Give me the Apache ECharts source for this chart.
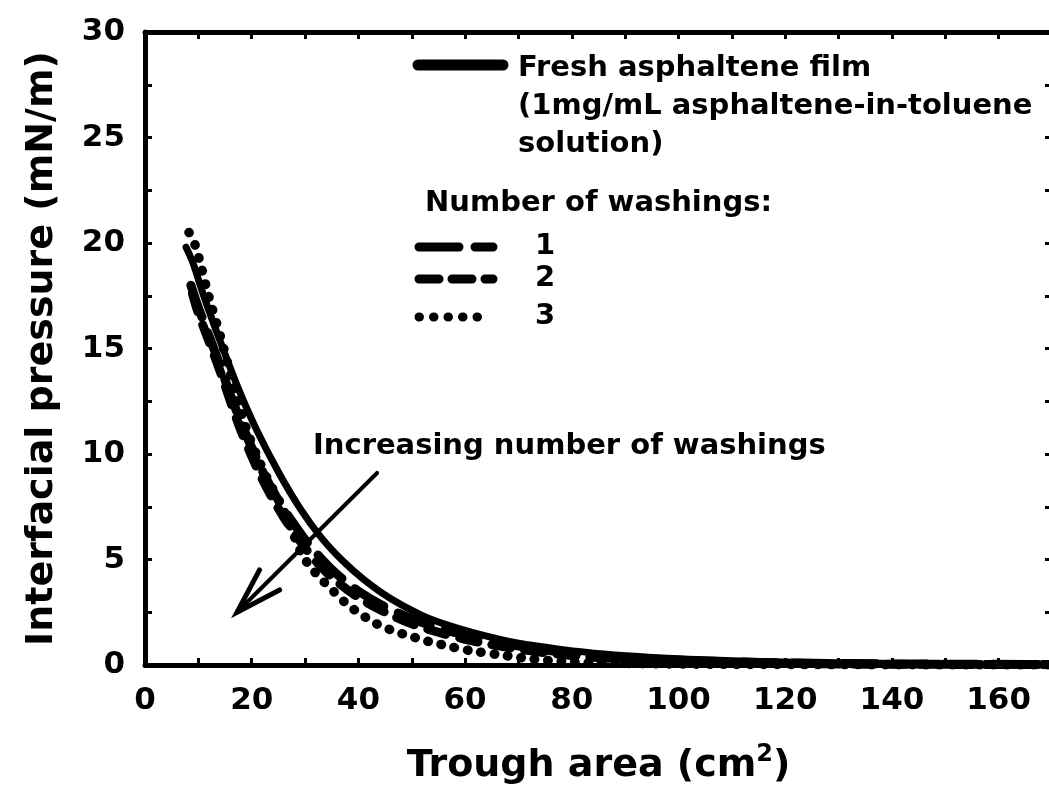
<!DOCTYPE html>
<html>
<head>
<meta charset="utf-8">
<script src="https://cdn.jsdelivr.net/npm/echarts@6/dist/echarts.min.js"></script>
<style>
html,body{margin:0;padding:0;background:#fff;}
#chart{width:1049px;height:806px;}
</style>
</head>
<body>
<div id="chart"></div>
<script>
// ---- Data ----
const xTicks = [0, 20, 40, 60, 80, 100, 120, 140, 160];
const yTicks = [0, 5, 10, 15, 20, 25, 30];

const freshX = [7.7, 9, 11, 14, 17.5, 21, 25, 29, 33, 37, 41, 46, 51.5, 56, 62, 70, 78, 86, 95, 105, 115, 130, 145, 160, 170];
const freshY = [19.8, 19.05, 17.5, 15.4, 13.1, 11.1, 9.15, 7.45, 6.05, 4.95, 4.05, 3.15, 2.4, 1.95, 1.5, 1.03, 0.74, 0.52, 0.36, 0.25, 0.17, 0.1, 0.06, 0.04, 0.03];

const wash1X = [8.6, 9.5, 10.5, 12.3, 14.2, 16, 18, 20, 22, 24, 26, 28, 30, 33, 36, 40, 45, 50, 55, 60, 66, 72, 80, 90, 100, 115, 130, 150, 170];
const wash1Y = [18.0, 17.3, 16.6, 15.4, 14.1, 12.8, 11.5, 10.3, 9.2, 8.25, 7.4, 6.65, 5.95, 5.05, 4.3, 3.5, 2.75, 2.2, 1.75, 1.42, 1.08, 0.82, 0.56, 0.36, 0.23, 0.12, 0.07, 0.04, 0.02];

const wash2X = [8.9, 9.7, 10.7, 12.5, 14.4, 16, 18, 20, 22, 24, 26, 28, 30, 33, 36, 40, 45, 50, 55, 60, 66, 72, 80, 90, 100, 115, 130, 150, 170];
const wash2Y = [17.6, 16.9, 16.2, 15.0, 13.7, 12.5, 11.1, 9.9, 8.8, 7.85, 7.0, 6.25, 5.55, 4.65, 3.95, 3.2, 2.5, 1.95, 1.55, 1.22, 0.92, 0.68, 0.45, 0.28, 0.17, 0.09, 0.05, 0.03, 0.02];

const wash3X = [8.25, 9.4, 10.3, 11.6, 12.6, 14.1, 15.5, 17, 19, 21, 23, 25.5, 27.5, 29.5, 31.5, 33.5, 35.5, 38, 40.5, 43, 45, 47, 49.5, 52, 54, 57, 61, 66, 72, 78, 85, 95, 110, 130, 150, 170];
const wash3Y = [20.5, 19.9, 19.1, 17.8, 16.9, 15.6, 14.3, 12.9, 11.2, 9.9, 8.8, 7.6, 6.4, 5.2, 4.5, 3.95, 3.45, 2.85, 2.4, 2.0, 1.78, 1.56, 1.4, 1.18, 1.07, 0.88, 0.68, 0.5, 0.3, 0.17, 0.1, 0.06, 0.03, 0.02, 0.01, 0.01];

// arrow annotation (data coords): from -> to
const arrowFrom = [43.5, 9.1];
const arrowTo = [17.25, 2.5];

const legendFresh = ['Fresh asphaltene film', '(1mg/mL asphaltene-in-toluene', 'solution)'];
const legendHeader = 'Number of washings:';
const legendWash = ['1', '2', '3'];
const annotation = 'Increasing number of washings';

// ---- Chart ----
const FONT = 'DejaVu Sans';
const pairs = (xs, ys) => xs.map((x, i) => [x, ys[i]]);

const chart = echarts.init(document.getElementById('chart'), null, {renderer: 'canvas'});

const axisCommon = {
  min: 0,
  axisLine: {show: true, onZero: false, lineStyle: {color: '#000', width: 5}},
  axisTick: {show: true, inside: true, length: 7, lineStyle: {color: '#000', width: 3}},
  minorTick: {show: true, splitNumber: 2, length: 7, lineStyle: {color: '#000', width: 3}},
  splitLine: {show: false}
};

const option = {
  backgroundColor: '#fff',
  animation: false,
  grid: {left: 145, right: -3, top: 32, bottom: 141, containLabel: false, outerBoundsMode: 'none'},
  xAxis: [
    Object.assign({}, axisCommon, {
      type: 'value', position: 'bottom', max: 170, interval: 20,
      axisLabel: {show: true, margin: 20, color: '#000', fontFamily: FONT, fontWeight: 'bold', fontSize: 31,
        showMaxLabel: false,
        formatter: v => xTicks.includes(v) ? String(v) : ''},
      name: 'Trough area (cm{sup|2})',
      nameLocation: 'middle', nameGap: 78,
      nameTextStyle: {color: '#000', fontFamily: FONT, fontWeight: 'bold', fontSize: 38, lineHeight: 46,
        rich: {sup: {fontFamily: FONT, fontWeight: 'bold', fontSize: 24, verticalAlign: 'top', lineHeight: 46, color: '#000'}}}
    }),
    Object.assign({}, axisCommon, {
      type: 'value', position: 'top', max: 170, interval: 20,
      axisLabel: {show: false}
    })
  ],
  yAxis: [
    Object.assign({}, axisCommon, {
      type: 'value', position: 'left', max: 30, interval: 5,
      axisLabel: {show: true, margin: 20, color: '#000', fontFamily: FONT, fontWeight: 'bold', fontSize: 31,
        formatter: v => yTicks.includes(v) ? String(v) : ''},
      name: 'Interfacial pressure (mN/m)',
      nameLocation: 'middle', nameGap: 84,
      nameTextStyle: {color: '#000', fontFamily: FONT, fontWeight: 'bold', fontSize: 38}
    }),
    Object.assign({}, axisCommon, {
      type: 'value', position: 'right', max: 30, interval: 5,
      axisLabel: {show: false}
    })
  ],
  series: [
    {
      name: 'fresh', type: 'line', smooth: 0.3, showSymbol: false, silent: true,
      data: pairs(freshX, freshY),
      lineStyle: {color: '#000', width: 7, cap: 'round', join: 'round'}
    },
    {
      name: '1', type: 'line', smooth: 0.3, showSymbol: false, silent: true,
      data: pairs(wash1X, wash1Y),
      lineStyle: {color: '#000', width: 9, type: [34, 16], cap: 'round', join: 'round'}
    },
    {
      name: '2', type: 'line', smooth: 0.3, showSymbol: false, silent: true,
      data: pairs(wash2X, wash2Y),
      lineStyle: {color: '#000', width: 9, type: [19, 14], cap: 'round', join: 'round'}
    },
    {
      name: '3', type: 'line', smooth: 0.3, showSymbol: false, silent: true,
      data: pairs(wash3X, wash3Y),
      lineStyle: {color: '#000', width: 9.5, type: [0.5, 13], cap: 'round', join: 'round'}
    },
    {
      name: 'arrow', type: 'custom', silent: true,
      data: [[arrowFrom[0], arrowFrom[1], arrowTo[0], arrowTo[1]]],
      renderItem: function (params, api) {
        const p1 = api.coord([api.value(0), api.value(1)]);
        const p2 = api.coord([api.value(2), api.value(3)]);
        const ang = Math.atan2(p1[1] - p2[1], p1[0] - p2[0]);
        const L = 48, spread = 0.30;
        const b1 = [p2[0] + L * Math.cos(ang + spread), p2[1] + L * Math.sin(ang + spread)];
        const b2 = [p2[0] + L * Math.cos(ang - spread), p2[1] + L * Math.sin(ang - spread)];
        return {
          type: 'group',
          children: [
            {type: 'line', shape: {x1: p1[0], y1: p1[1], x2: p2[0], y2: p2[1]},
              style: {stroke: '#000', lineWidth: 4, lineCap: 'round'}},
            {type: 'polyline', shape: {points: [b1, p2, b2]},
              style: {stroke: '#000', fill: null, lineWidth: 5, lineCap: 'round', lineJoin: 'miter'}}
          ]
        };
      }
    }
  ],
  graphic: [
    // legend: fresh film
    {type: 'line', shape: {x1: 418, y1: 65, x2: 503, y2: 65},
      style: {stroke: '#000', lineWidth: 11, lineCap: 'round'}},
    {type: 'text', left: 518, top: 49,
      style: {text: legendFresh.join('\n'), font: 'bold 29px "' + FONT + '"', fill: '#000', lineHeight: 38}},
    {type: 'text', left: 425, top: 189,
      style: {text: legendHeader, font: 'bold 29px "' + FONT + '"', fill: '#000'}},
    {type: 'line', shape: {x1: 419, y1: 247, x2: 493, y2: 247},
      style: {stroke: '#000', lineWidth: 9, lineCap: 'round', lineDash: [40, 16]}},
    {type: 'line', shape: {x1: 419, y1: 279, x2: 493, y2: 279},
      style: {stroke: '#000', lineWidth: 9, lineCap: 'round', lineDash: [20, 13]}},
    {type: 'line', shape: {x1: 419, y1: 317, x2: 490, y2: 317},
      style: {stroke: '#000', lineWidth: 9, lineCap: 'round', lineDash: [0.5, 14]}},
    {type: 'text', left: 535, top: 232,
      style: {text: legendWash[0], font: 'bold 29px "' + FONT + '"', fill: '#000'}},
    {type: 'text', left: 535, top: 264,
      style: {text: legendWash[1], font: 'bold 29px "' + FONT + '"', fill: '#000'}},
    {type: 'text', left: 535, top: 302,
      style: {text: legendWash[2], font: 'bold 29px "' + FONT + '"', fill: '#000'}},
    // annotation
    {type: 'text', left: 313, top: 432,
      style: {text: annotation, font: 'bold 29px "' + FONT + '"', fill: '#000'}}
  ]
};

chart.setOption(option);
</script>
</body>
</html>
